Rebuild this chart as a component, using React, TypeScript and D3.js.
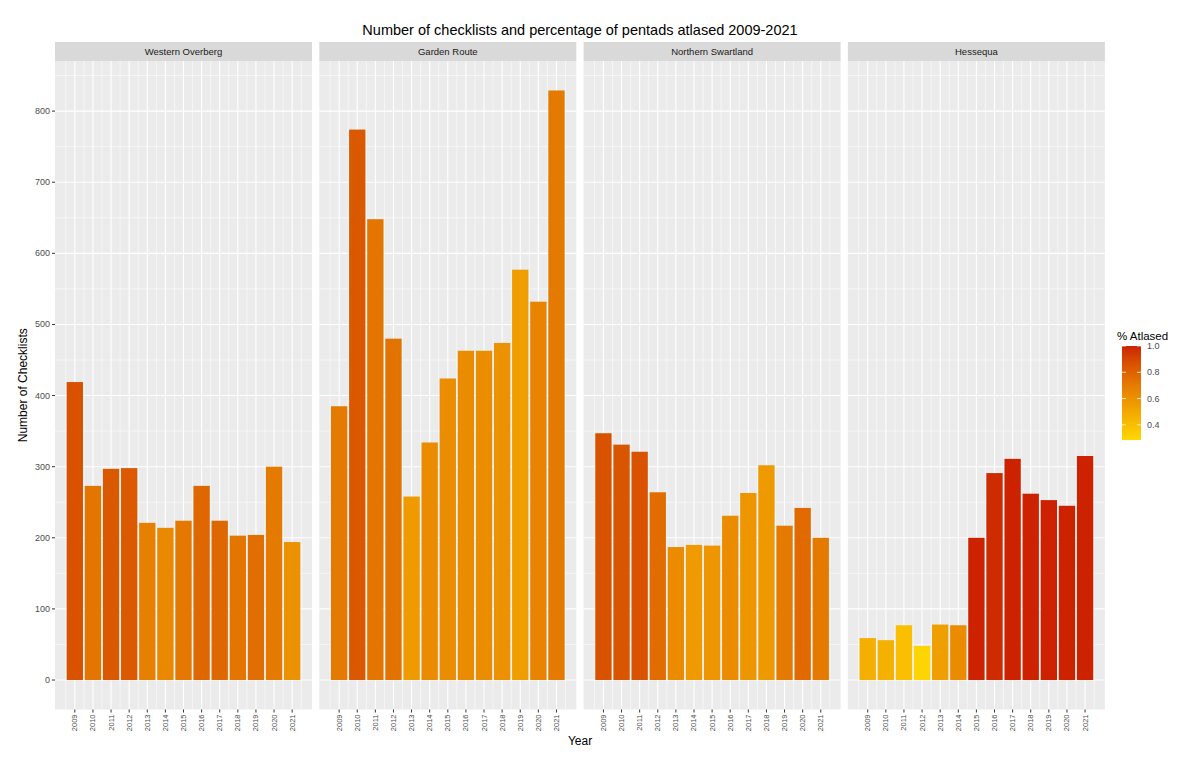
import React, { useEffect } from 'react';
import * as d3 from 'd3';

const regions = ['Western Overberg', 'Garden Route', 'Northern Swartland', 'Hessequa'];
const years = [2009, 2010, 2011, 2012, 2013, 2014, 2015, 2016, 2017, 2018, 2019, 2020, 2021];

// checklists per year, one array per region
const westernOverberg = [419, 273, 297, 298, 221, 214, 224, 273, 224, 203, 204, 300, 194];
const gardenRoute = [385, 774, 648, 480, 258, 334, 424, 463, 463, 474, 577, 532, 829];
const northernSwartland = [347, 331, 321, 264, 187, 190, 189, 231, 263, 302, 217, 242, 200];
const hessequa = [59, 56, 77, 48, 78, 77, 200, 291, 311, 262, 253, 245, 315];

// share of pentads atlased
const pctWesternOverberg = [0.86, 0.72, 0.84, 0.83, 0.68, 0.64, 0.71, 0.78, 0.78, 0.72, 0.75, 0.7, 0.6];
const pctGardenRoute = [0.7, 0.84, 0.72, 0.73, 0.56, 0.63, 0.62, 0.63, 0.62, 0.6, 0.55, 0.66, 0.7];
const pctNorthernSwartland = [0.86, 0.85, 0.86, 0.76, 0.63, 0.56, 0.58, 0.63, 0.58, 0.57, 0.7, 0.77, 0.7];
const pctHessequa = [0.47, 0.46, 0.4, 0.3, 0.54, 0.63, 1.0, 0.98, 1.0, 1.0, 1.0, 1.0, 1.0];

const yTicks = [0, 100, 200, 300, 400, 500, 600, 700, 800];
const legendTicks = [0.4, 0.6, 0.8, 1.0];

const counts = [westernOverberg, gardenRoute, northernSwartland, hessequa];
const pcts = [pctWesternOverberg, pctGardenRoute, pctNorthernSwartland, pctHessequa];

const W = 1200;
const H = 765;
const plotLeft = 55;
const panelW = 257;
const gap = 7.3;
const stripTop = 42;
const panelTop = 61;
const panelBottom = 709.5;
const font = '"Liberation Sans", Arial, Helvetica, sans-serif';

const pctMin = 0.285;
const pctMax = 1.0;

export default function App() {
  useEffect(() => {
    document.body.style.margin = '0';
  }, []);

  const y = d3.scaleLinear().domain([-41.45, 870.45]).range([panelBottom, panelTop]);
  const x = d3.scaleLinear().domain([2007.905, 2022.095]).range([0, panelW]);
  const color = d3.scaleLinear<string>()
    .domain([pctMin, pctMax])
    .range(['#FFD800', '#CC2200'])
    .interpolate(d3.interpolateLab)
    .clamp(true);

  const majorX = years;
  const minorX = years.map(v => v - 0.5).concat([2021.5]);
  const minorY = d3.range(50, 900, 100);
  const barW = x(2009.45) - x(2008.55);

  const legTop = 346;
  const legBottom = 440;
  const legX = 1122;
  const legW = 19;
  const legScale = d3.scaleLinear().domain([pctMin, pctMax]).range([legBottom, legTop]);
  const stops = d3.range(0, 1.0001, 0.05);

  return (
    <svg width={W} height={H} style={{ display: 'block', background: '#fff' }} fontFamily={font}>
      <defs>
        <linearGradient id="legGrad" x1="0" y1="1" x2="0" y2="0">
          {stops.map(s => (
            <stop key={s} offset={s} stopColor={color(pctMin + s * (pctMax - pctMin))} />
          ))}
        </linearGradient>
      </defs>

      <text x={580} y={35} textAnchor="middle" fontSize={14.5} fill="#000">
        Number of checklists and percentage of pentads atlased 2009-2021
      </text>

      {regions.map((name, i) => {
        const left = plotLeft + i * (panelW + gap);
        return (
          <g key={name} transform={`translate(${left},0)`}>
            <rect x={0} y={stripTop} width={panelW} height={panelTop - stripTop} fill="#D9D9D9" />
            <text x={panelW / 2} y={(stripTop + panelTop) / 2 + 3.5} textAnchor="middle" fontSize={9.5} fill="#1A1A1A">
              {name}
            </text>
            <rect x={0} y={panelTop} width={panelW} height={panelBottom - panelTop} fill="#EBEBEB" />
            {minorY.map(v => (
              <line key={'my' + v} x1={0} x2={panelW} y1={y(v)} y2={y(v)} stroke="#fff" strokeWidth={0.55} />
            ))}
            {minorX.map(v => (
              <line key={'mx' + v} x1={x(v)} x2={x(v)} y1={panelTop} y2={panelBottom} stroke="#fff" strokeWidth={0.55} />
            ))}
            {yTicks.map(v => (
              <line key={'y' + v} x1={0} x2={panelW} y1={y(v)} y2={y(v)} stroke="#fff" strokeWidth={1.1} />
            ))}
            {majorX.map(v => (
              <line key={'x' + v} x1={x(v)} x2={x(v)} y1={panelTop} y2={panelBottom} stroke="#fff" strokeWidth={1.1} />
            ))}
            {years.map((yr, j) => (
              <rect
                key={yr}
                x={x(yr) - barW / 2}
                y={y(counts[i][j])}
                width={barW}
                height={y(0) - y(counts[i][j])}
                fill={color(pcts[i][j])}
              />
            ))}
            {years.map(yr => (
              <g key={'t' + yr}>
                <line x1={x(yr)} x2={x(yr)} y1={panelBottom} y2={panelBottom + 3} stroke="#333" strokeWidth={1} />
                <text
                  transform={`translate(${x(yr) + 2.5},${panelBottom + 5}) rotate(-90)`}
                  textAnchor="end"
                  fontSize={7.5}
                  fill="#4D4D4D"
                >
                  {yr}
                </text>
              </g>
            ))}
          </g>
        );
      })}

      {yTicks.map(v => (
        <g key={'yl' + v}>
          <line x1={plotLeft - 3} x2={plotLeft} y1={y(v)} y2={y(v)} stroke="#333" strokeWidth={1} />
          <text x={plotLeft - 5} y={y(v) + 3} textAnchor="end" fontSize={9} fill="#4D4D4D">
            {v}
          </text>
        </g>
      ))}

      <text
        transform={`translate(27,${(panelTop + panelBottom) / 2}) rotate(-90)`}
        textAnchor="middle"
        fontSize={12}
        fill="#000"
      >
        Number of Checklists
      </text>
      <text x={580} y={745} textAnchor="middle" fontSize={12} fill="#000">
        Year
      </text>

      <text x={1117} y={340} fontSize={11.5} fill="#000">% Atlased</text>
      <rect x={legX} y={legTop} width={legW} height={legBottom - legTop} fill="url(#legGrad)" />
      {legendTicks.map(v => (
        <g key={'lg' + v}>
          <line x1={legX} x2={legX + 4} y1={legScale(v)} y2={legScale(v)} stroke="#fff" strokeWidth={0.8} />
          <line x1={legX + legW - 4} x2={legX + legW} y1={legScale(v)} y2={legScale(v)} stroke="#fff" strokeWidth={0.8} />
          <text x={legX + legW + 6} y={legScale(v) + 3} fontSize={9} fill="#4D4D4D">
            {v.toFixed(1)}
          </text>
        </g>
      ))}
    </svg>
  );
}
